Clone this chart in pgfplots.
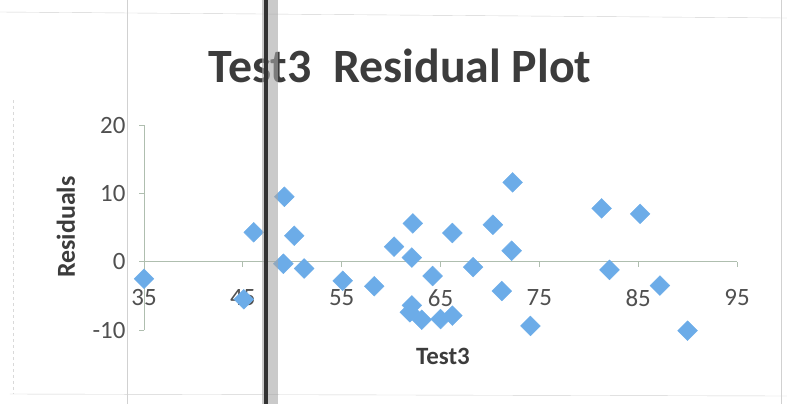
\documentclass[border=0pt]{standalone}
\usepackage{fontspec}
\setmainfont{Carlito}
\usepackage{pgfplots}
\pgfplotsset{compat=1.18}
\definecolor{mk}{RGB}{108,172,232}
\definecolor{axl}{RGB}{175,190,175}
\definecolor{txt}{RGB}{60,60,60}
\definecolor{tick}{RGB}{80,80,80}
\begin{document}
\begin{tikzpicture}
\begin{scope}[shift={(-144bp,330bp)},x=1bp,y=-1bp]
\useasboundingbox (0,0) rectangle (787,404);
\draw[black!18] (127,0) -- (127,404);
\draw[black!18] (781,0) -- (781,404);
\draw[black!18] (0,12) -- (787,18);
\draw[black!18] (10,394) -- (787,396);
\draw[black!15,dashed] (13,100) -- (13,394);
\end{scope}
\begin{axis}[
  at={(0,0)}, anchor=south west,
  scale only axis, width=593bp, height=205bp,
  xmin=35, xmax=95, ymin=-10, ymax=20,
  axis x line*=middle, axis y line*=left,
  hide obscured x ticks=false, hide obscured y ticks=false,
  axis line style={axl, line width=0.8pt},
  xtick={35,45,...,95}, ytick={-10,0,10,20},
  tick align=outside, major tick length=5bp,
  tick style={axl, line width=0.8pt},
  clip=false,
  /pgf/number format/assume math mode=true,
  ticklabel style={font=\fontsize{25}{25}\selectfont, text=tick},
  xticklabel style={yshift=-19bp},
  yticklabel style={xshift=-10bp},
]
\addplot[only marks, mark=square*, mark size=7bp, mark options={rotate=45, fill=mk, draw=mk}] coordinates {
(35.0,-2.5) (45.1,-5.5) (46.1,4.3) (49.2,9.5) (50.2,3.8) (49.1,-0.3) (51.2,-1.0)
(55.1,-2.8) (58.3,-3.6) (60.3,2.2) (62.2,5.6) (62.1,0.6) (62.1,-6.4) (61.9,-7.4)
(63.1,-8.5) (64.2,-2.1) (65.0,-8.4) (66.2,-7.9) (66.2,4.2) (68.3,-0.8) (70.3,5.4)
(71.2,-4.3) (72.3,11.6) (72.2,1.6) (74.1,-9.4) (81.3,7.8) (85.2,7.0) (82.1,-1.2)
(87.2,-3.5) (90.0,-10.1)
};
\end{axis}
\begin{scope}[shift={(-144bp,330bp)},x=1bp,y=-1bp]
\node[anchor=base, text=txt, font=\fontsize{48}{48}\selectfont\bfseries] at (400,82) {Test3\ \ Residual Plot};
\node[anchor=base, text=txt, font=\fontsize{25}{25}\selectfont\bfseries] at (443,364) {Test3};
\node[anchor=base, rotate=90, text=txt, font=\fontsize{26}{26}\selectfont\bfseries] at (75,227) {Residuals};
\fill[black!35, opacity=0.6] (262,0) rectangle (278,404);
\fill[black!80] (263.5,0) rectangle (268,404);
\end{scope}
\end{tikzpicture}
\end{document}
